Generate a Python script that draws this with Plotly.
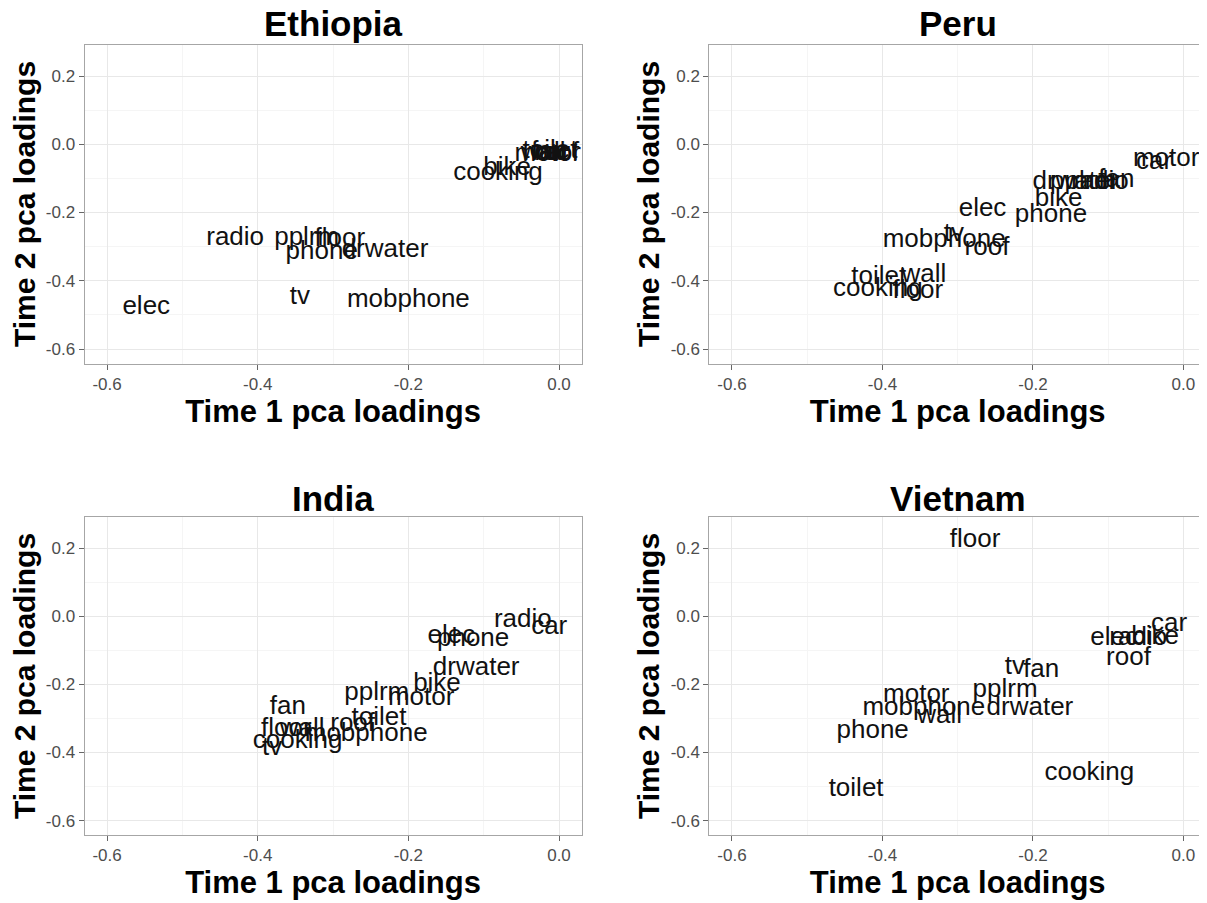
import plotly.graph_objects as go

# ---------------- data ----------------
countries = ["Ethiopia", "Peru", "India", "Vietnam"]

eth_labels = ["elec", "radio", "pplrm", "floor", "phone", "drwater", "tv", "mobphone",
              "cooking", "bike", "wall", "toilet", "car", "fan", "motor", "roof"]
eth_x = [-0.548, -0.430, -0.335, -0.291, -0.315, -0.231, -0.344, -0.200,
         -0.081, -0.069, -0.021, -0.012, -0.009, -0.013, -0.015, -0.003]
eth_y = [-0.477, -0.275, -0.275, -0.279, -0.316, -0.312, -0.450, -0.458,
         -0.087, -0.072, -0.027, -0.022, -0.027, -0.025, -0.029, -0.027]

peru_labels = ["motor", "car", "drwater", "pplrm", "radio", "fan", "bike", "elec",
               "phone", "tv", "mobphone", "roof", "toilet", "wall", "cooking", "floor"]
peru_x = [-0.023, -0.039, -0.143, -0.134, -0.111, -0.089, -0.166, -0.267,
          -0.176, -0.305, -0.318, -0.261, -0.405, -0.345, -0.406, -0.353]
peru_y = [-0.046, -0.053, -0.113, -0.113, -0.113, -0.107, -0.163, -0.190,
          -0.209, -0.263, -0.282, -0.304, -0.390, -0.385, -0.427, -0.431]

india_labels = ["radio", "car", "elec", "phone", "drwater", "bike", "pplrm", "motor",
                "fan", "floor", "wall", "roof", "toilet", "mobphone", "cooking", "tv"]
india_x = [-0.048, -0.013, -0.143, -0.114, -0.110, -0.162, -0.242, -0.183,
           -0.360, -0.362, -0.341, -0.274, -0.239, -0.256, -0.347, -0.381]
india_y = [-0.011, -0.031, -0.060, -0.069, -0.153, -0.199, -0.226, -0.240,
           -0.267, -0.332, -0.332, -0.319, -0.301, -0.348, -0.368, -0.387]

viet_labels = ["floor", "elec", "radio", "bike", "car", "roof", "tv", "fan",
               "pplrm", "motor", "mobphone", "drwater", "wall", "phone", "toilet", "cooking"]
viet_x = [-0.277, -0.092, -0.060, -0.0375, -0.019, -0.073, -0.224, -0.189,
          -0.237, -0.355, -0.345, -0.204, -0.324, -0.413, -0.435, -0.125]
viet_y = [0.222, -0.065, -0.065, -0.063, -0.023, -0.124, -0.151, -0.158,
          -0.217, -0.232, -0.270, -0.270, -0.295, -0.339, -0.510, -0.461]

x_tickvals = [-0.6, -0.4, -0.2, 0.0]
x_ticktext = ["-0.6", "-0.4", "-0.2", "0.0"]
y_tickvals = [-0.6, -0.4, -0.2, 0.0, 0.2]
y_ticktext = ["-0.6", "-0.4", "-0.2", "0.0", "0.2"]

x_title = "Time 1 pca loadings"
y_title = "Time 2 pca loadings"

# ---------------- layout geometry ----------------
# the page body has an 8px margin, so the figure is drawn 8px in from the corner
OFF = 8
W, H = 1199, 895
FONT = "Liberation Sans, Arial, Helvetica, sans-serif"
x_range = [-0.63, 0.03]
y_range = [-0.6425, 0.2925]


def px_x(X):
    return (X - OFF) / W


def px_y(Y):
    return 1 - (Y - OFF) / H


col_dom = [[px_x(84.5), px_x(581.6)], [px_x(709.4), px_x(1206.0)]]
row_dom = [[px_y(363.5), px_y(44.5)], [px_y(835.0), px_y(517.0)]]
title_y = [px_y(24), px_y(498)]

panels = [
    (eth_labels, eth_x, eth_y, 0, 0),
    (peru_labels, peru_x, peru_y, 0, 1),
    (india_labels, india_x, india_y, 1, 0),
    (viet_labels, viet_x, viet_y, 1, 1),
]

fig = go.Figure()
layout = dict(
    width=W, height=H,
    margin=dict(l=0, r=0, t=0, b=0),
    paper_bgcolor="white", plot_bgcolor="white",
    showlegend=False,
    font=dict(family=FONT, color="black"),
    annotations=[],
)

for i, (labs, xs, ys, r, c) in enumerate(panels):
    n = i + 1
    xa = "x" if n == 1 else f"x{n}"
    ya = "y" if n == 1 else f"y{n}"
    fig.add_trace(go.Scatter(
        x=xs, y=ys, text=labs, mode="text", textposition="middle center",
        textfont=dict(family=FONT, size=26, color="#111111"),
        xaxis=xa, yaxis=ya, hoverinfo="text", cliponaxis=False,
    ))
    axis_common = dict(
        showline=True, linecolor="#a6a6a6", linewidth=1, mirror=True,
        ticks="outside", ticklen=5, tickcolor="#666666", tickwidth=1,
        showgrid=True, gridcolor="#e8e8e8", gridwidth=1,
        zeroline=False,
        tickfont=dict(family=FONT, size=17, color="#4d4d4d"),
        minor=dict(dtick=0.1, showgrid=True, gridcolor="#f5f5f5", gridwidth=1, ticks=""),
    )
    layout["xaxis" if n == 1 else f"xaxis{n}"] = dict(
        axis_common, domain=col_dom[c], range=x_range, anchor=ya,
        tickmode="array", tickvals=x_tickvals, ticktext=x_ticktext,
        title=dict(text=f"<b>{x_title}</b>", font=dict(family=FONT, size=31, color="black"), standoff=6),
    )
    layout["yaxis" if n == 1 else f"yaxis{n}"] = dict(
        axis_common, domain=row_dom[r], range=y_range, anchor=xa,
        tickmode="array", tickvals=y_tickvals, ticktext=y_ticktext,
        title=dict(text=f"<b>{y_title}</b>", font=dict(family=FONT, size=30, color="black"), standoff=2),
    )
    layout["annotations"].append(dict(
        text=f"<b>{countries[i]}</b>", xref="paper", yref="paper",
        x=sum(col_dom[c]) / 2, y=title_y[r],
        xanchor="center", yanchor="middle", showarrow=False,
        font=dict(family=FONT, size=35, color="black"),
    ))

fig.update_layout(**layout)
fig.write_html("out.html")
